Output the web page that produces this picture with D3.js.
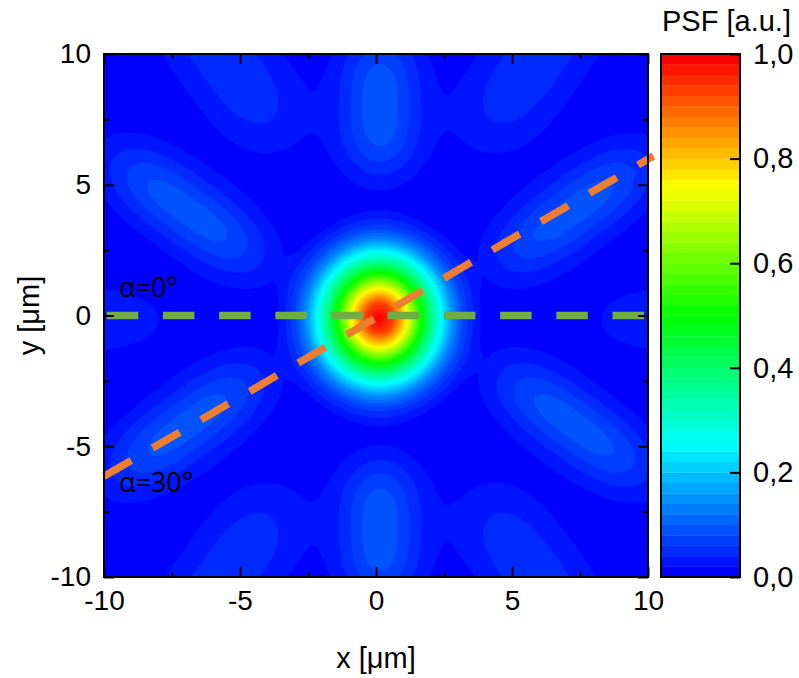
<!DOCTYPE html>
<html>
<head>
<meta charset="utf-8">
<script src="https://cdn.jsdelivr.net/npm/d3@7"></script>
<style>
    body { margin: 0; background: #fff; }
    svg { display: block; }
</style>
</head>
<body>
<svg id="chart" width="799" height="678"></svg>
<script>
// ticks
const xTicks = [-10, -5, 0, 5, 10];
const yTicks = [-10, -5, 0, 5, 10];
const minorTicks = [-7.5, -2.5, 2.5, 7.5];
const colorTicks = [0, 0.2, 0.4, 0.6, 0.8, 1.0];

// contour levels: 50 bands of 0.02
const LEVEL_STEP = 0.02;
const LEVEL_COUNT = 50;
const rainbowStops = [0, 0.25, 0.5, 0.75, 1];
const rainbowColors = ['#0000ff', '#00ffff', '#00ff00', '#ffff00', '#ff0000'];

// central spot, radial profile read along x (um -> PSF)
const peakCenter = [0.12, -0.1];
const peakRadius = [0, 0.5, 1.0, 1.5, 2.0, 2.3, 2.7, 3.1, 3.5, 3.8, 4.1];
const peakValue = [1.0, 0.93, 0.75, 0.52, 0.34, 0.25, 0.14, 0.07, 0.03, 0.01, 0];
const peakStretchY = 1.11;

// side lobes: centre (um), peak value, axis angle (deg), half length and width (um)
const lobes = [
    { x: 0.15, y: 8.05, peak: 0.095, angle: 90, length: 2.8, width: 1.08 },
    { x: 0.15, y: -8.2, peak: 0.095, angle: 90, length: 2.8, width: 1.08 },
    { x: -6.94, y: 4.01, peak: 0.09, angle: 143, length: 3.6, width: 1.0 },
    { x: 7.28, y: 4.01, peak: 0.09, angle: 37, length: 3.6, width: 1.0 },
    { x: -6.94, y: -4.19, peak: 0.09, angle: 37, length: 3.6, width: 1.0 },
    { x: 7.28, y: -4.19, peak: 0.09, angle: 143, length: 3.6, width: 1.0 },
    { x: -5.4, y: 9.6, peak: 0.055, angle: 125, length: 3.8, width: 1.3 },
    { x: 5.75, y: 9.6, peak: 0.055, angle: 55, length: 3.8, width: 1.3 },
    { x: -5.4, y: -9.8, peak: 0.055, angle: 55, length: 3.8, width: 1.3 },
    { x: 5.75, y: -9.8, peak: 0.055, angle: 125, length: 3.8, width: 1.3 },
    { x: -11.8, y: -0.15, peak: 0.042, angle: 0, length: 4.2, width: 1.0 },
    { x: 12.1, y: -0.15, peak: 0.042, angle: 0, length: 4.2, width: 1.0 }
];

// cut lines
const zeroLine = [[-9.9, 0], [10, 0]];
const tiltedLine = [[-10, -6.15], [10.2, 6.1]];
const lineLabels = ['α=0°', 'α=30°'];

const plot = { left: 104, right: 648, top: 54, bottom: 577 };
const bar = { left: 661, right: 740 };
const AXIS_FONT = 'Liberation Sans, Arial, sans-serif';
const DASH = '31.5,24.7';

const svg = d3.select('#chart');
const x = d3.scaleLinear().domain([-10, 10]).range([plot.left, plot.right]);
const y = d3.scaleLinear().domain([-10, 10]).range([plot.bottom, plot.top]);
const c = d3.scaleLinear().domain([0, 1]).range([plot.bottom, plot.top]);
const rainbow = d3.scaleLinear().domain(rainbowStops).range(rainbowColors);
const levels = d3.range(LEVEL_COUNT).map(i => i * LEVEL_STEP);
const bandColor = i => rainbow(i / (LEVEL_COUNT - 1));

const locale = d3.formatLocale({ decimal: ',', thousands: '.', grouping: [3], currency: ['', ''], minus: '-' });

// ---- field
const deg = Math.PI / 180;
const peakProfile = d3.scaleLinear().domain(peakRadius).range(peakValue).clamp(true);

function psf(px, py) {
    let dx = px - peakCenter[0], dy = (py - peakCenter[1]) / peakStretchY;
    let v = peakProfile(Math.sqrt(dx * dx + dy * dy));
    for (const lobe of lobes) {
        const cs = Math.cos(lobe.angle * deg), sn = Math.sin(lobe.angle * deg);
        const ox = px - lobe.x, oy = py - lobe.y;
        const along = ox * cs + oy * sn, across = -ox * sn + oy * cs;
        v += lobe.peak * Math.exp(-Math.pow(Math.abs(along) / lobe.length, 3)
            - across * across / (2 * lobe.width * lobe.width));
    }
    return v;
}

const GRID = 301, GRID_MIN = -10.5, GRID_STEP = 21 / (GRID - 1);
const values = new Float64Array(GRID * GRID);
for (let j = 0; j < GRID; j++) {
    for (let i = 0; i < GRID; i++) {
        values[j * GRID + i] = psf(GRID_MIN + i * GRID_STEP, GRID_MIN + j * GRID_STEP);
    }
}

const bands = d3.contours().size([GRID, GRID]).thresholds(levels.slice(1))(values);
const toScreen = d3.geoTransform({
    point: function (gx, gy) {
        this.stream.point(x(GRID_MIN + (gx - 0.5) * GRID_STEP), y(GRID_MIN + (gy - 0.5) * GRID_STEP));
    }
});
const path = d3.geoPath(toScreen);

svg.append('clipPath').attr('id', 'plot-clip')
    .append('rect')
    .attr('x', plot.left).attr('y', plot.top)
    .attr('width', plot.right - plot.left).attr('height', plot.bottom - plot.top);

const map = svg.append('g').attr('clip-path', 'url(#plot-clip)');
map.append('rect')
    .attr('x', plot.left).attr('y', plot.top)
    .attr('width', plot.right - plot.left).attr('height', plot.bottom - plot.top)
    .attr('fill', bandColor(0));
map.selectAll('path.band')
    .data(bands)
    .join('path')
    .attr('class', 'band')
    .attr('d', path)
    .attr('fill', (d, i) => bandColor(i + 1))
    .attr('stroke', (d, i) => bandColor(i + 1))
    .attr('stroke-width', 0.4);

// ---- cut lines
const line = d3.line().x(d => x(d[0])).y(d => y(d[1]));
svg.append('path').datum(zeroLine)
    .attr('d', line).attr('fill', 'none')
    .attr('stroke', '#70ad47').attr('stroke-width', 7.5).attr('stroke-dasharray', DASH);
svg.append('path').datum(tiltedLine)
    .attr('d', line).attr('fill', 'none')
    .attr('stroke', '#ed7d31').attr('stroke-width', 7.5).attr('stroke-dasharray', DASH);

svg.selectAll('text.cut')
    .data(lineLabels)
    .join('text')
    .attr('class', 'cut')
    .attr('x', x(-9.45))
    .attr('y', (d, i) => i === 0 ? y(0.71) : y(-6.75))
    .attr('font-family', 'Open Sans, Noto Sans, sans-serif')
    .attr('font-size', 27)
    .attr('fill', '#000')
    .text(d => d);

// ---- axes
function styleAxis(g, size) {
    g.select('.domain').remove();
    g.attr('font-size', size).attr('font-family', AXIS_FONT);
    g.selectAll('.tick line').attr('stroke', '#000').attr('stroke-width', 2);
    g.selectAll('.tick text').attr('fill', '#000');
}

const intFormat = locale.format('d');
svg.append('g').attr('transform', `translate(0,${plot.bottom})`)
    .call(d3.axisBottom(x).tickValues(xTicks).tickSize(-10).tickPadding(13).tickFormat(intFormat))
    .call(styleAxis, 28);
svg.append('g').attr('transform', `translate(${plot.left},0)`)
    .call(d3.axisLeft(y).tickValues(yTicks).tickSize(-10).tickPadding(13).tickFormat(intFormat))
    .call(styleAxis, 28);
svg.append('g').attr('transform', `translate(0,${plot.top})`)
    .call(d3.axisTop(x).tickValues(xTicks).tickSize(-10).tickFormat(''))
    .call(styleAxis, 28);
svg.append('g').attr('transform', `translate(${plot.right},0)`)
    .call(d3.axisRight(y).tickValues(yTicks).tickSize(-10).tickFormat(''))
    .call(styleAxis, 28);

// minor ticks on all four sides
[[d3.axisBottom(x), `translate(0,${plot.bottom})`],
 [d3.axisTop(x), `translate(0,${plot.top})`],
 [d3.axisLeft(y), `translate(${plot.left},0)`],
 [d3.axisRight(y), `translate(${plot.right},0)`]].forEach(([axis, t]) => {
    svg.append('g').attr('transform', t)
        .call(axis.tickValues(minorTicks).tickSize(-5).tickFormat(''))
        .call(styleAxis, 28);
});

svg.append('rect')
    .attr('x', plot.left).attr('y', plot.top)
    .attr('width', plot.right - plot.left).attr('height', plot.bottom - plot.top)
    .attr('fill', 'none').attr('stroke', '#000').attr('stroke-width', 2);

svg.append('text')
    .attr('x', (plot.left + plot.right) / 2).attr('y', 668)
    .attr('text-anchor', 'middle')
    .attr('font-family', AXIS_FONT).attr('font-size', 29)
    .text('x [μm]');
svg.append('text')
    .attr('transform', `translate(39,${(plot.top + plot.bottom) / 2}) rotate(-90)`)
    .attr('text-anchor', 'middle')
    .attr('font-family', AXIS_FONT).attr('font-size', 29)
    .text('y [μm]');

// ---- colour bar
const colorBar = svg.append('g');
colorBar.selectAll('rect.step')
    .data(levels)
    .join('rect')
    .attr('class', 'step')
    .attr('x', bar.left)
    .attr('width', bar.right - bar.left)
    .attr('y', d => c(d + LEVEL_STEP))
    .attr('height', d => c(d) - c(d + LEVEL_STEP) + 0.3)
    .attr('fill', (d, i) => bandColor(i));
colorBar.append('g').attr('transform', `translate(${bar.right},0)`)
    .call(d3.axisRight(c).tickValues(colorTicks).tickSize(-10).tickPadding(13).tickFormat(locale.format('.1f')))
    .call(styleAxis, 29);
colorBar.append('rect')
    .attr('x', bar.left).attr('y', plot.top)
    .attr('width', bar.right - bar.left).attr('height', plot.bottom - plot.top)
    .attr('fill', 'none').attr('stroke', '#000').attr('stroke-width', 2);
colorBar.append('text')
    .attr('x', (bar.left + bar.right) / 2 + 26).attr('y', 31)
    .attr('text-anchor', 'middle')
    .attr('font-family', AXIS_FONT).attr('font-size', 29)
    .text('PSF [a.u.]');
</script>
</body>
</html>
